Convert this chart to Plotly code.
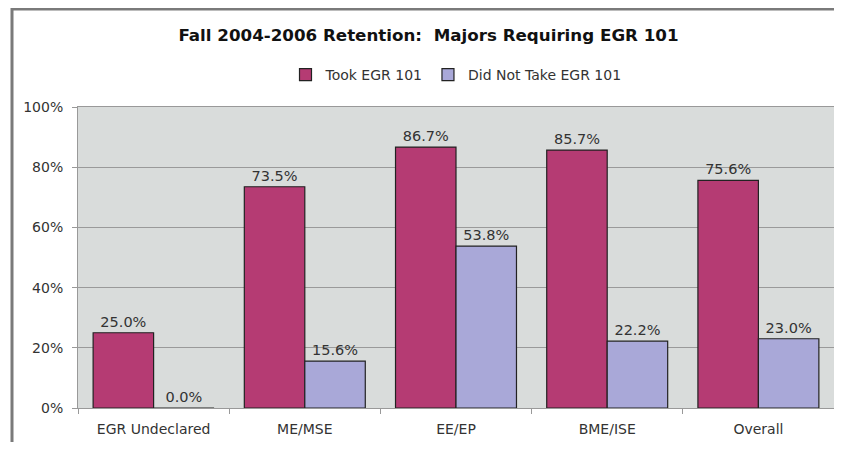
import plotly.graph_objects as go

categories = ["EGR Undeclared", "ME/MSE", "EE/EP", "BME/ISE", "Overall"]
took = [25.0, 73.5, 86.7, 85.7, 75.6]
not_took = [0.0, 15.6, 53.8, 22.2, 23.0]
series_names = ["Took EGR 101", "Did Not Take EGR 101"]
y_ticks = [0, 20, 40, 60, 80, 100]
y_labels = ["0%", "20%", "40%", "60%", "80%", "100%"]

FONT = "DejaVu Sans, Verdana, sans-serif"

# page body has an 8px margin; figure is sized/offset to fit without scrollbars
W, H = 826, 434
ML, MR, MT, MB = 70, 0, 99, 34
PW = W - ML - MR
PH = H - MT - MB

fig = go.Figure()
for name, vals, color in [(series_names[0], took, "#B53B73"), (series_names[1], not_took, "#A9A8D8")]:
    fig.add_trace(go.Bar(
        x=categories, y=vals, name=name,
        marker=dict(color=color, line=dict(color="#222222", width=1.2)),
        text=[f"{v:.1f}%" for v in vals], textposition="outside",
        textfont=dict(size=14.5, color="#333333", family=FONT),
        cliponaxis=False,
    ))

fig.update_layout(
    width=W, height=H,
    margin=dict(l=ML, r=MR, t=MT, b=MB, autoexpand=False),
    paper_bgcolor="white", plot_bgcolor="#D9DCDB",
    barmode="group", bargap=0.2, bargroupgap=0,
    font=dict(family=FONT, size=14, color="#333333"),
    title=dict(text="<b>Fall 2004-2006 Retention:  Majors Requiring EGR 101</b>",
               x=(420.5 - ML) / PW, xref="paper", xanchor="center",
               y=1 - 27 / H, yanchor="middle",
               font=dict(size=16.7, color="#111111", family=FONT)),
    legend=dict(orientation="h", x=(448 - ML) / PW, xanchor="center",
                yref="container", y=1 - 67 / H, yanchor="middle",
                font=dict(size=14, color="#333333"), itemwidth=30,
                bgcolor="rgba(0,0,0,0)"),
    showlegend=True,
)
fig.update_xaxes(showgrid=False, ticks="outside", tickson="boundaries", ticklen=5,
                 tickcolor="#999999", showline=True, linecolor="#999999", linewidth=1,
                 mirror=True, ticklabelstandoff=8, tickfont=dict(size=14, color="#333333"))
fig.update_yaxes(range=[0, 100], tickvals=y_ticks, ticktext=y_labels, showgrid=True,
                 gridcolor="#9A9A9A", gridwidth=1, ticks="outside", ticklen=5,
                 tickcolor="#999999", showline=True, linecolor="#999999", mirror=True,
                 zeroline=False, ticklabelstandoff=6, tickfont=dict(size=14, color="#333333"))

# outer chart frame
fig.add_shape(type="rect", xref="paper", yref="paper",
              x0=(4 - ML) / PW, x1=1.5, y0=-0.5, y1=(PH + MT - 1) / PH,
              line=dict(color="#7A7A7A", width=3), fillcolor="rgba(0,0,0,0)", layer="below")

fig.write_html("out.html")
